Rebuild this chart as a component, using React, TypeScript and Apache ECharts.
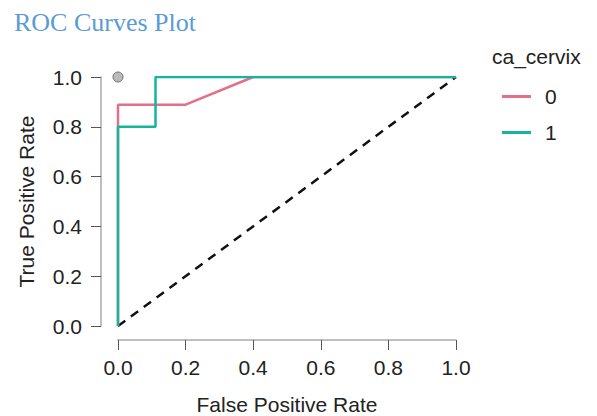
import React, { useEffect, useRef } from "react";
import * as echarts from "echarts";

const fpr0 = [0, 0, 0, 0.2, 0.4, 1];
const tpr0 = [0, 0.8, 0.889, 0.889, 1, 1];
const fpr1 = [0, 0, 0.111, 0.111, 1];
const tpr1 = [0, 0.8, 0.8, 1, 1];
const refX = [0, 1];
const refY = [0, 1];
const pointX = [0];
const pointY = [1];
const seriesNames = ["0", "1"];

export default function App() {
  const ref = useRef<HTMLDivElement>(null);
  useEffect(() => {
    document.body.style.margin = "0";
    if (!ref.current) return;
    const chart = echarts.init(ref.current, null, { renderer: "svg" });
    const zip = (xs: number[], ys: number[]) => xs.map((x, i) => [x, ys[i]]);
    const font = "Liberation Sans, Arial, sans-serif";
    const axisCommon = {
      type: "value",
      min: 0,
      max: 1,
      interval: 0.2,
      nameLocation: "middle",
      nameTextStyle: { fontFamily: font, fontSize: 21, color: "#222" },
      axisLine: { show: true, onZero: false, lineStyle: { color: "#aaa", width: 1.5 } },
      axisTick: { show: true, length: 10, lineStyle: { color: "#555", width: 1 } },
      splitLine: { show: false },
    };
    chart.setOption({
      animation: false,
      title: {
        text: "ROC Curves Plot",
        left: 9,
        top: 4,
        textStyle: {
          fontFamily: "Liberation Serif, Times New Roman, serif",
          fontSize: 26,
          fontWeight: "normal",
          color: "#5b9bd5",
        },
      },
      grid: { left: 118, right: 141, top: 77, bottom: 90, outerBoundsMode: "none", containLabel: false },
      xAxis: {
        ...axisCommon,
        offset: 14,
        name: "False Positive Rate",
        nameGap: 54,
        axisLabel: {
          margin: 17,
          fontFamily: font,
          fontSize: 21,
          color: "#222",
          formatter: (v: number) => v.toFixed(1),
        },
      },
      yAxis: {
        ...axisCommon,
        offset: 17,
        name: "True Positive Rate",
        nameGap: 64,
        axisLabel: {
          margin: 19,
          fontFamily: font,
          fontSize: 21,
          color: "#222",
          formatter: (v: number) => v.toFixed(1),
        },
      },
      legend: {
        orient: "vertical",
        left: 497,
        top: 81,
        itemWidth: 29,
        itemHeight: 3,
        itemGap: 15,
        icon: "rect",
        data: seriesNames,
        textStyle: { fontFamily: font, fontSize: 21, color: "#222", padding: [0, 0, 0, 9] },
      },
      graphic: [
        {
          type: "text",
          left: 492,
          top: 46,
          style: { text: "ca_cervix", font: `21px ${font}`, fill: "#222" },
        },
      ],
      series: [
        {
          name: "ref",
          type: "line",
          data: zip(refX, refY),
          symbol: "none",
          lineStyle: { color: "#111", width: 2.5, type: [9, 7] },
          silent: true,
        },
        {
          name: seriesNames[0],
          type: "line",
          data: zip(fpr0, tpr0),
          symbol: "none",
          color: "#e36f8a",
          lineStyle: { color: "#e36f8a", width: 2.5 },
        },
        {
          name: seriesNames[1],
          type: "line",
          data: zip(fpr1, tpr1),
          symbol: "none",
          color: "#17b39b",
          lineStyle: { color: "#17b39b", width: 2.5 },
        },
        {
          name: "point",
          type: "scatter",
          data: zip(pointX, pointY),
          symbol: "circle",
          symbolSize: 10,
          itemStyle: { color: "#aaa", borderColor: "#555", borderWidth: 1 },
          silent: true,
        },
      ],
    });
    return () => chart.dispose();
  }, []);
  return <div ref={ref} style={{ width: 597, height: 416 }} />;
}
